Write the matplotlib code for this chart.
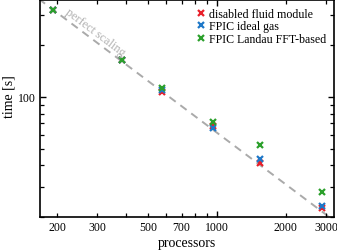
import matplotlib
matplotlib.use("Agg")
import matplotlib.pyplot as plt
import numpy as np
from matplotlib.ticker import FixedLocator, FuncFormatter, NullFormatter, LogLocator

plt.rcParams['font.family'] = ['Liberation Serif', 'DejaVu Serif']
plt.rcParams['mathtext.fontset'] = 'stix'

processors = [192, 384, 576, 960, 1536, 2880]
t_disabled = [322, 163, 107, 67.3, 41.2, 22.7]
t_ideal = [322, 163, 110, 65.5, 43.3, 23.2]
t_landau = [322, 164, 113, 71.0, 52.2, 28.0]

labels = ["disabled fluid module", "FPIC ideal gas", "FPIC Landau FFT-based"]
colors = ["#e8202a", "#1f78c8", "#2ca02c"]

perfect_x = [150, 3600]
perfect_ref_p = 192
perfect_ref_t = 322

fig = plt.figure(figsize=(3.37, 2.51), dpi=100)
ax = fig.add_axes([0.1187, 0.1315, 0.8723, 0.8645])

px = np.array(perfect_x, dtype=float)
ax.plot(px, perfect_ref_t * perfect_ref_p / px, ls=(0, (4, 3)), color="#aaaaaa", lw=1.4, zorder=1)

for ys, lab, c in zip([t_disabled, t_ideal, t_landau], labels, colors):
    ax.plot(processors, ys, ls="none", marker="x", ms=4.5, mew=1.6, color=c, label=lab, zorder=3)

ax.set_xscale("log")
ax.set_yscale("log")
ax.set_xlim(168.6, 3243)
ax.set_ylim(20, 366)

ax.xaxis.set_major_locator(FixedLocator([1000]))
ax.xaxis.set_minor_locator(LogLocator(base=10, subs=np.arange(2, 10)))
show = {200, 300, 500, 700, 2000, 3000}
ax.xaxis.set_minor_formatter(FuncFormatter(lambda v, p: f"{int(round(v))}" if int(round(v)) in show else ""))
ax.xaxis.set_major_formatter(FuncFormatter(lambda v, p: f"{int(round(v))}"))

ax.yaxis.set_major_locator(FixedLocator([100]))
ax.yaxis.set_minor_locator(LogLocator(base=10, subs=np.arange(2, 10)))
ax.yaxis.set_minor_formatter(NullFormatter())
ax.yaxis.set_major_formatter(FuncFormatter(lambda v, p: f"{int(round(v))}"))

ax.tick_params(which="both", direction="in", top=True, right=True, labelsize=8.5, pad=3)
ax.tick_params(which="major", length=4.5, width=1)
ax.tick_params(which="minor", length=3, width=0.9)
for s in ax.spines.values():
    s.set_linewidth(1.2)

ax.set_xlabel("processors", fontsize=10, labelpad=2)
ax.set_ylabel("time [s]", fontsize=10, labelpad=2)
ax.yaxis.set_label_coords(-0.085, 0.56)

ax.text(212, 300, "perfect scaling", rotation=-37, color="#b0b0b0", fontsize=8.7,
        ha="left", va="bottom", rotation_mode="anchor")

leg = ax.legend(loc="upper right", frameon=False, fontsize=8.6, handlelength=0.6,
                handletextpad=0.4, labelspacing=0.05, borderaxespad=0.25)

fig.savefig("out.png", dpi=100)
